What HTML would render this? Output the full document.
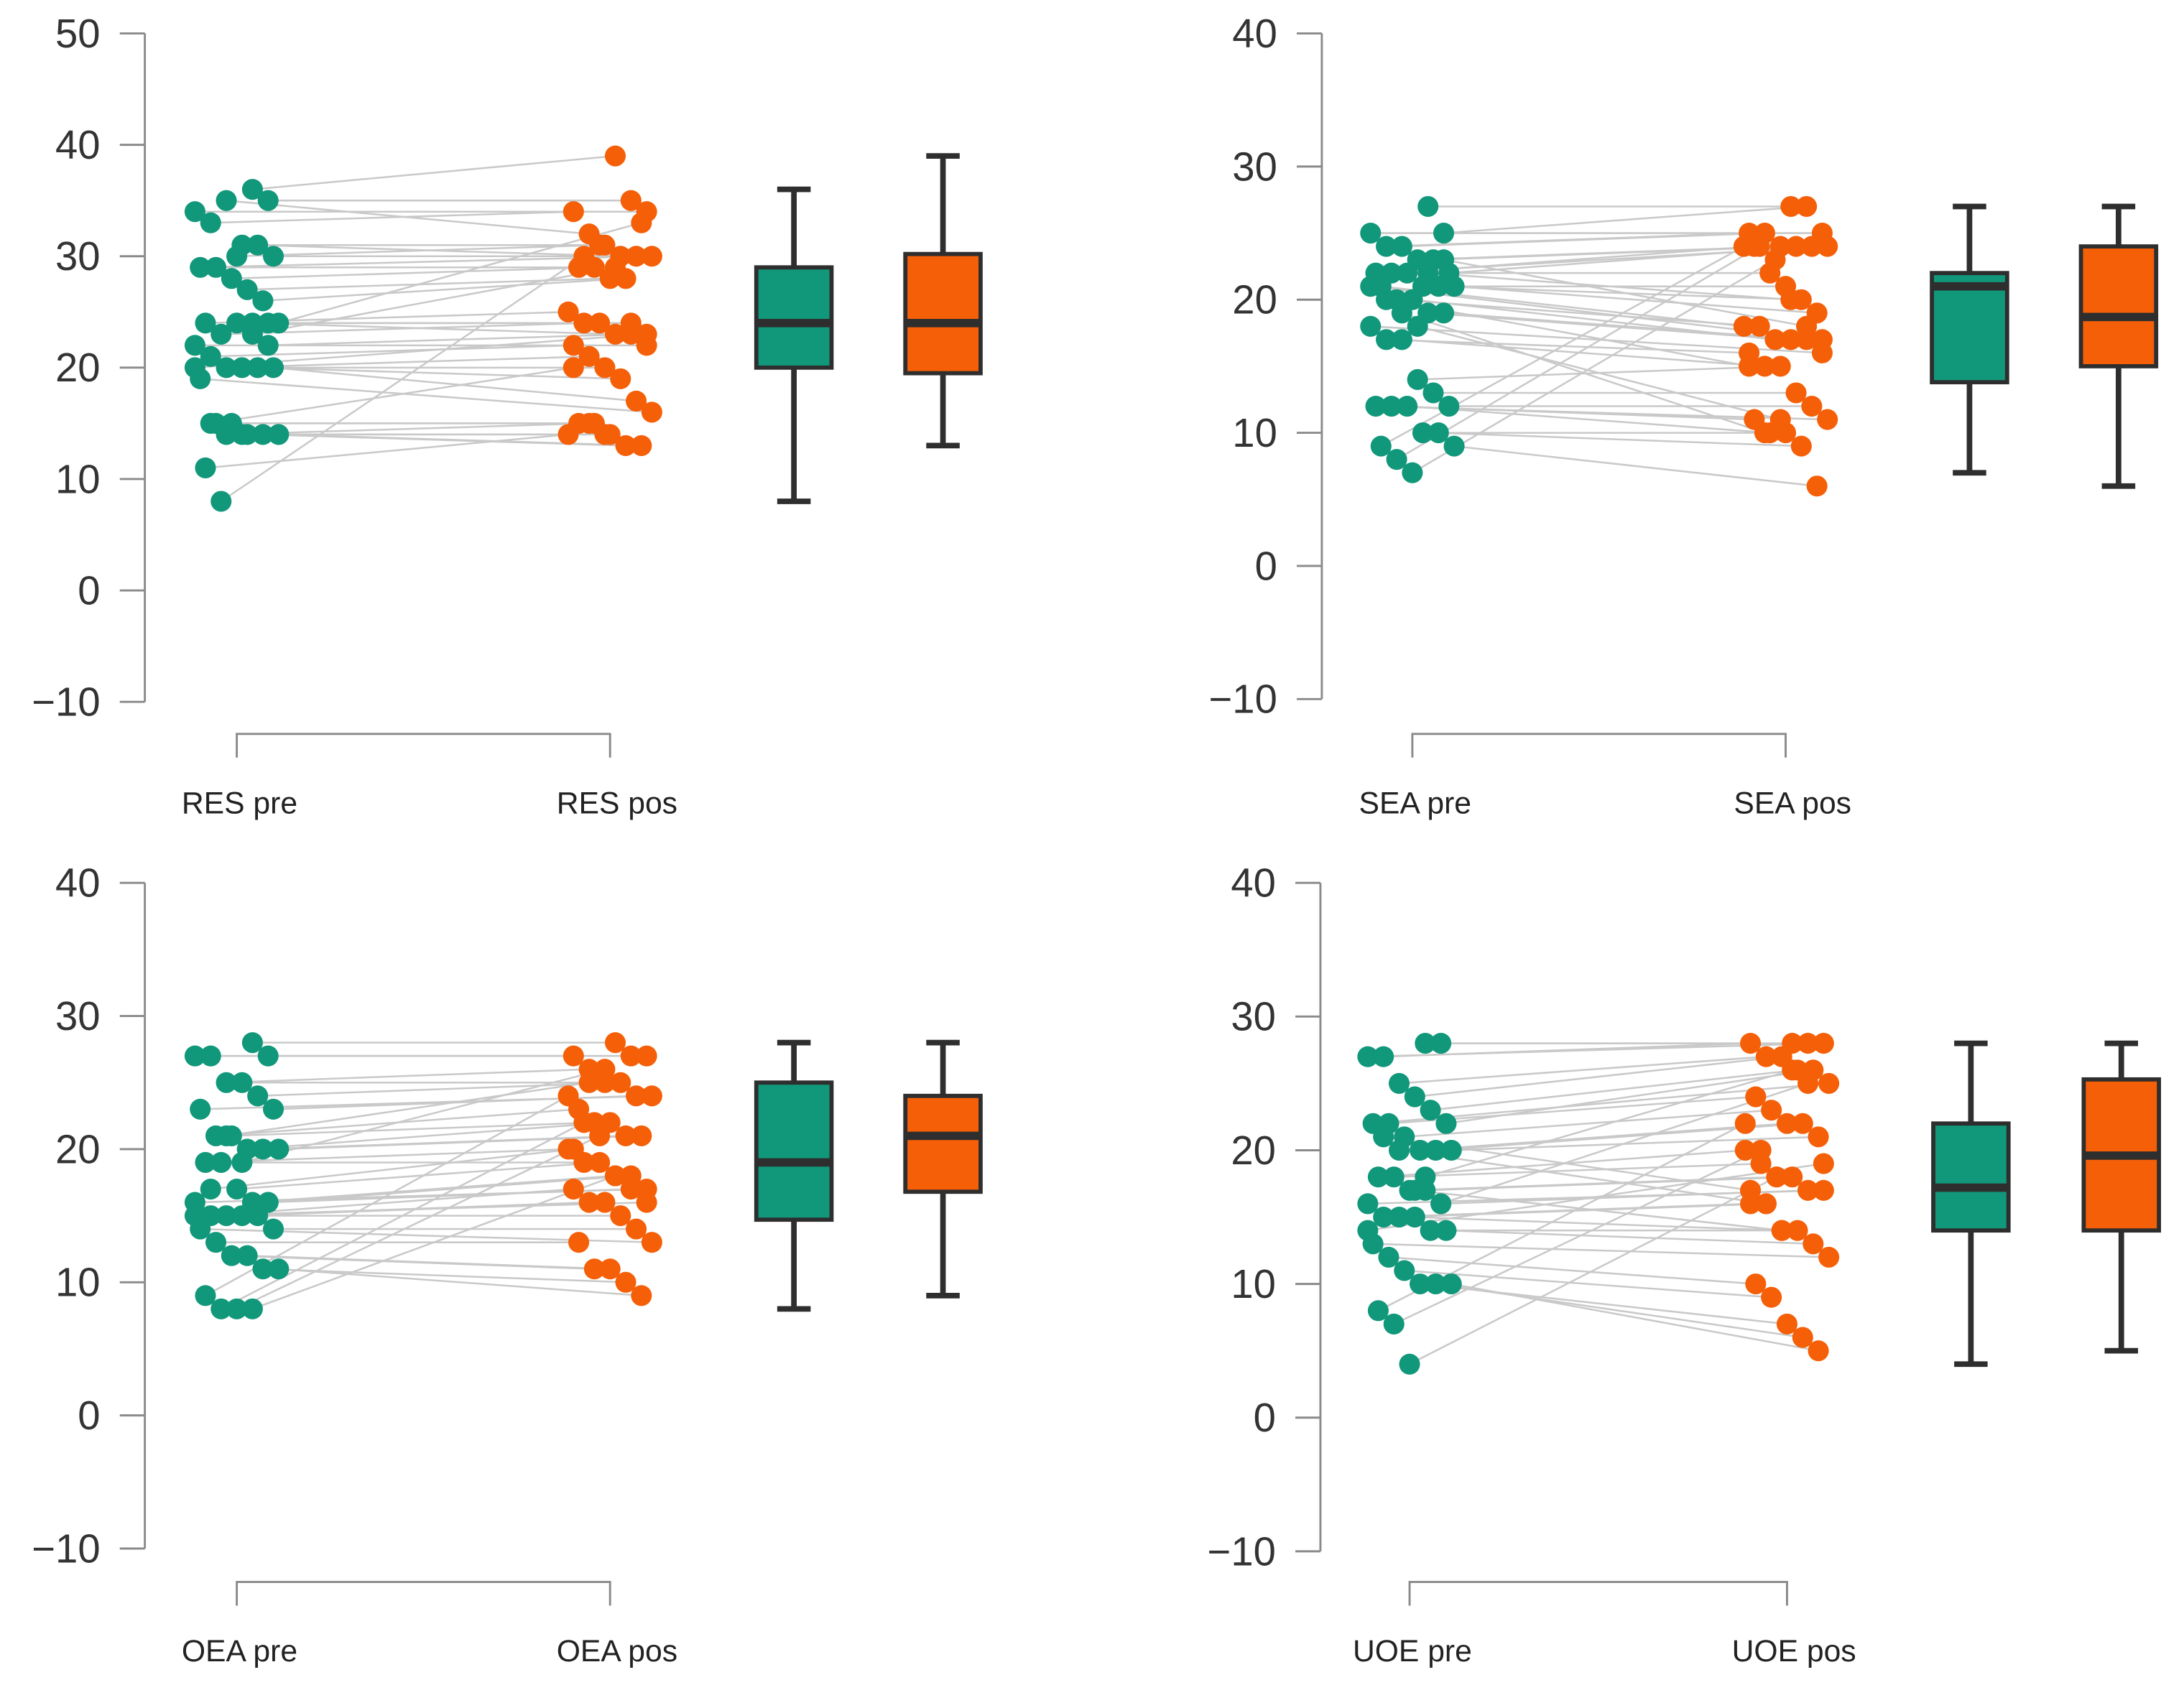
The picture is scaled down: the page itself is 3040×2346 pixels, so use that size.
<!DOCTYPE html>
<html><head><meta charset="utf-8"><style>
html,body{margin:0;padding:0;background:#fff;}
svg{display:block;}
text{font-family:"Liberation Sans",Arial,sans-serif;}
</style></head>
<body>
<svg id="chart" width="3040" height="2346" viewBox="0 0 1568 1210" preserveAspectRatio="none" xmlns="http://www.w3.org/2000/svg"></svg>
<script>
// ---- data ----
const resPre = [36,35,34,33,35,31,31,30,29,29,28,27,26,24,24,23,24,24,22,22,21,20,20,20,20,19,15,15,14,14,14,11,8,30,23,24,20,15,14,14];
const resPos = [39,35,34,34,32,31,30,30,30,29,29,28,28,33,25,24,24,23,23,22,22,21,20,19,17,16,15,15,14,13,13,14,30,31,29,24,23,20,15,14];
const seaPre = [27,25,25,24,24,23,23,22,22,22,22,21,21,21,21,20,20,19,19,18,17,17,14,13,12,12,12,12,10,10,9,9,8,7,22,23,21,20,19,18];
const seaPos = [27,27,25,25,25,24,24,24,24,24,22,21,20,19,18,18,17,17,17,16,16,15,15,13,12,11,11,10,10,9,6,24,24,23,20,18,17,15,10,11];
const oeaPre = [28,27,27,27,25,25,24,23,23,21,21,20,20,20,19,19,17,16,16,16,15,15,15,15,14,14,13,12,12,11,11,9,8,8,8,16,15,17,21,19];
const oeaPos = [28,27,27,27,26,25,25,24,24,23,22,22,21,21,20,19,19,18,18,17,17,16,16,15,14,13,13,11,11,10,9,24,22,21,18,17,16,20,25,26];
const uoePre = [28,28,27,27,25,24,23,22,22,22,21,20,20,20,18,18,17,17,16,16,15,15,15,14,14,13,12,11,10,10,10,8,7,4,18,16,14,21,20,17];
const uoePos = [28,28,28,28,27,27,26,26,25,24,23,22,22,21,20,19,18,18,17,17,16,16,14,14,13,12,10,9,7,6,5,22,20,18,26,25,19,17,16,14];
// box stats: min, q1, median, q3, max
const resBoxPre = [8,20,24,29,36];
const resBoxPos = [13,19.5,24,30.2,39];
const seaBoxPre = [7,13.8,21,22,27];
const seaBoxPos = [6,15,18.7,24,27];
const oeaBoxPre = [8,14.7,19,25,28];
const oeaBoxPos = [9,16.8,21,24,28];
const uoeBoxPre = [4,14,17.2,22,28];
const uoeBoxPos = [5,14,19.6,25.3,28];
const resTicks = [50,40,30,20,10,0,-10];
const otherTicks = [40,30,20,10,0,-10];
const resLabels = ["RES pre","RES pos"];
const seaLabels = ["SEA pre","SEA pos"];
const oeaLabels = ["OEA pre","OEA pos"];
const uoeLabels = ["UOE pre","UOE pos"];

const NS="http://www.w3.org/2000/svg";
const svg=document.getElementById('chart');
function mk(tag,attrs,parent){const e=document.createElementNS(NS,tag);for(const k in attrs)e.setAttribute(k,attrs[k]);(parent||svg).appendChild(e);return e;}
const GREEN="#11977a", ORANGE="#f55f08", DARK="#2e2e2e";

function panel(name,cfg,ticks,labels,pre,pos,boxPre,boxPos){
  const g=mk('g',{});
  
  
  const yMax=ticks[0], yMin=ticks[ticks.length-1];
  const y=v=>cfg.yTop+(yMax-v)/(yMax-yMin)*(cfg.yBot-cfg.yTop);
  // y axis
  const ax=mk('line',{x1:cfg.ax,x2:cfg.ax,y1:y(yMax),y2:y(yMin),stroke:'#8a8a8a','stroke-width':1.5},g);
  
  
  ticks.forEach(t=>{
    mk('line',{x1:cfg.ax-18,x2:cfg.ax,y1:y(t),y2:y(t),stroke:'#8a8a8a','stroke-width':1.5},g);
    const tx=mk('text',{x:cfg.ax-32,y:y(t)+10,'text-anchor':'end','font-size':29,fill:'#333'},g);
    tx.textContent=(t<0?'\u2212'+Math.abs(t):String(t));
    
    
  });
  // x bracket
  const bY=cfg.bY;
  const br=mk('path',{d:`M${cfg.xPre} ${bY+17} V${bY} H${cfg.xPos} V${bY+17}`,fill:'none',stroke:'#8a8a8a','stroke-width':1.5},g);
  
  
  [cfg.xPre,cfg.xPos].forEach((x,i)=>{
    const t=mk('text',{x:x+2+i*3,y:bY+57,'text-anchor':'middle','font-size':22,fill:'#222'},g);
    t.textContent=labels[i];
    
    
  });
  const jit=i=>(((i*37+11)%17)/16-0.5)*60;
  // lines
  pre.forEach((v,i)=>{
    if(pos[i]===undefined)return;
    const l=mk('line',{x1:cfg.xPre+jit(i),y1:y(v),x2:cfg.xPos+jit(i+5),y2:y(pos[i]),stroke:'#c9c9c9','stroke-width':1.3},g);
    
    
  });
  pre.forEach((v,i)=>{
    const c=mk('circle',{cx:cfg.xPre+jit(i),cy:y(v),r:7.5,fill:GREEN},g);
    
    
  });
  pos.forEach((v,i)=>{
    const c=mk('circle',{cx:cfg.xPos+jit(i+5),cy:y(v),r:7.5,fill:ORANGE},g);
    
    
  });
  // boxes
  [[boxPre,cfg.bxPre,GREEN,'box-pre'],[boxPos,cfg.bxPos,ORANGE,'box-pos']].forEach(([b,cx,col,nm])=>{
    const bg=mk('g',{},g);
    
    
    const w=27;
    mk('line',{x1:cx,x2:cx,y1:y(b[0]),y2:y(b[4]),stroke:DARK,'stroke-width':4},bg);
    mk('line',{x1:cx-12,x2:cx+12,y1:y(b[0]),y2:y(b[0]),stroke:DARK,'stroke-width':4},bg);
    mk('line',{x1:cx-12,x2:cx+12,y1:y(b[4]),y2:y(b[4]),stroke:DARK,'stroke-width':4},bg);
    mk('rect',{x:cx-w,y:y(b[3]),width:2*w,height:y(b[1])-y(b[3]),fill:col,stroke:DARK,'stroke-width':3},bg);
    mk('line',{x1:cx-w,x2:cx+w,y1:y(b[2]),y2:y(b[2]),stroke:DARK,'stroke-width':6},bg);
  });
}
panel('res',{ax:104,yTop:24,yBot:504,bY:527,xPre:170,xPos:438,bxPre:570,bxPos:677},resTicks,resLabels,resPre,resPos,resBoxPre,resBoxPos);
panel('sea',{ax:949,yTop:24,yBot:502,bY:527,xPre:1014,xPos:1282,bxPre:1414,bxPos:1521},otherTicks,seaLabels,seaPre,seaPos,seaBoxPre,seaBoxPos);
panel('oea',{ax:104,yTop:634,yBot:1112,bY:1136,xPre:170,xPos:438,bxPre:570,bxPos:677},otherTicks,oeaLabels,oeaPre,oeaPos,oeaBoxPre,oeaBoxPos);
panel('uoe',{ax:948,yTop:634,yBot:1114,bY:1136,xPre:1012,xPos:1283,bxPre:1415,bxPos:1523},otherTicks,uoeLabels,uoePre,uoePos,uoeBoxPre,uoeBoxPos);
</script>
</body></html>
